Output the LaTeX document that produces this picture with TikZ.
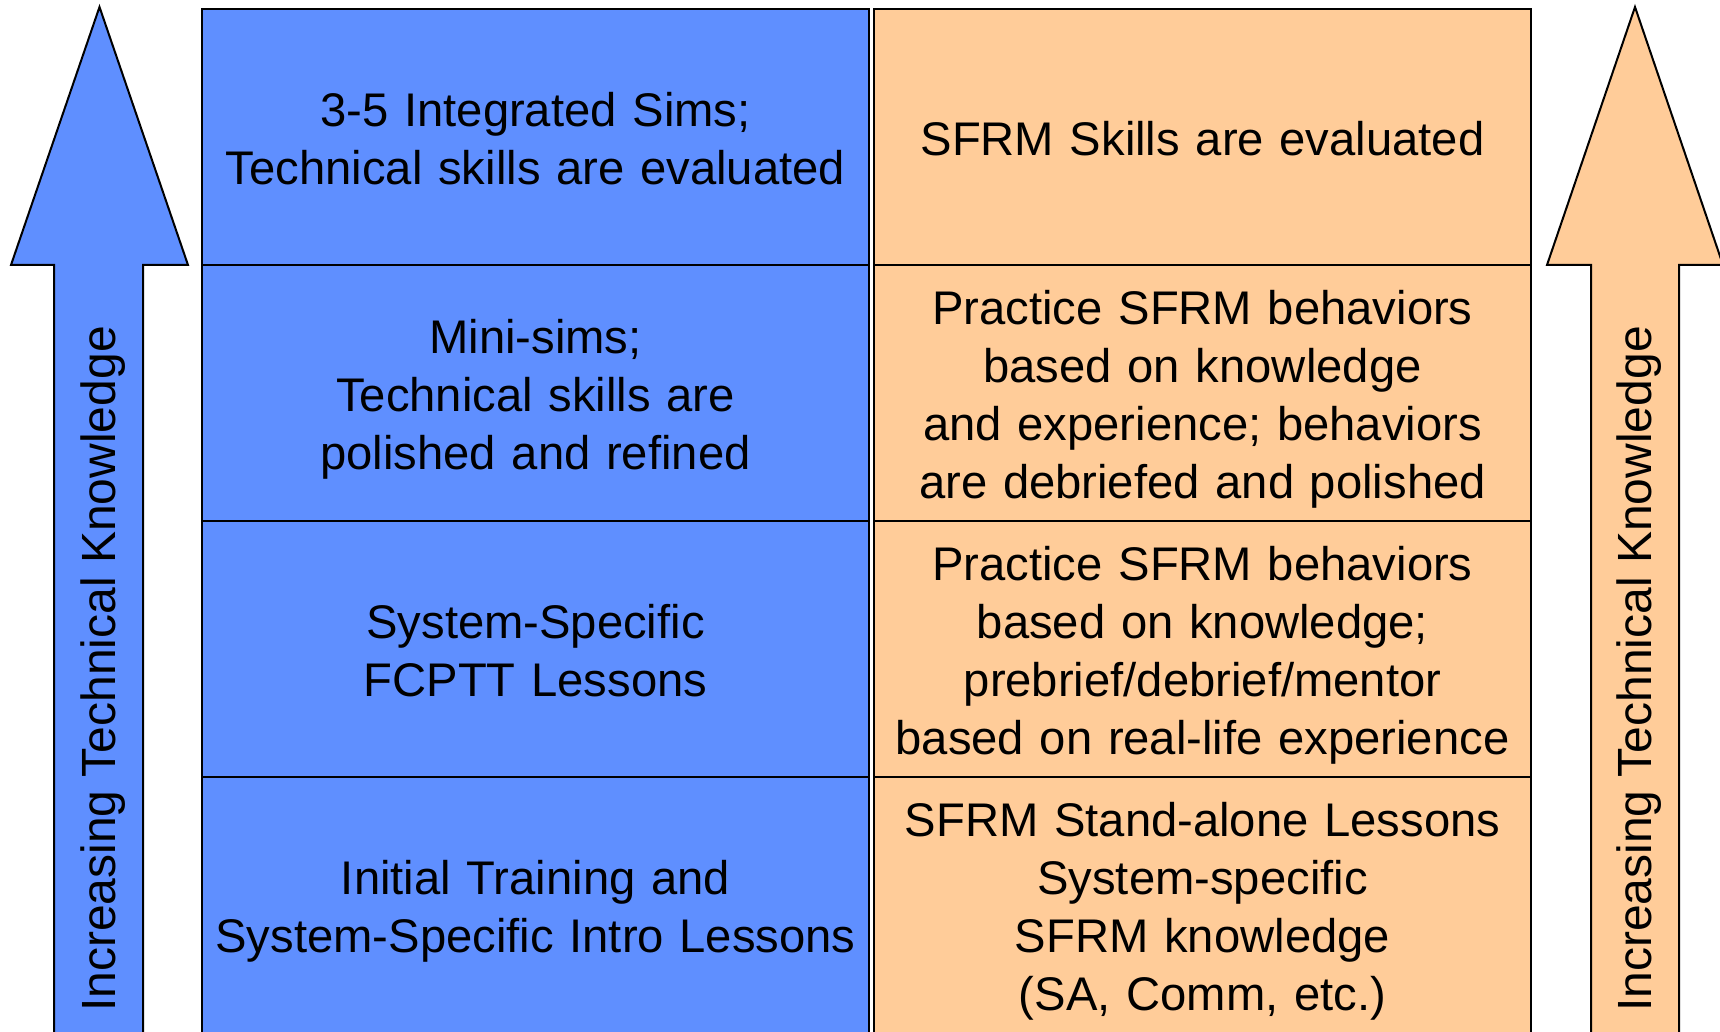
\documentclass[tikz,border=0pt]{standalone}
\usepackage{fontspec}
\setmainfont{Liberation Sans}
\usepackage{tikz}
\usetikzlibrary{positioning}
\definecolor{cellblue}{RGB}{95,143,255}
\definecolor{cellorange}{RGB}{255,204,153}
\newcommand{\cellstrut}{\rule[-5pt]{0pt}{29pt}}
\tikzset{
    cell/.style={draw=black, line width=1pt, outer sep=0pt, inner sep=0pt,
        minimum height=128pt, align=center, text width=#1,
        font=\fontsize{23.6}{29}\selectfont,
        execute at begin node=\cellstrut, execute at end node=\cellstrut},
    bluecell/.style={cell=332pt, fill=cellblue, minimum width=333.5pt},
    orangecell/.style={cell=327pt, fill=cellorange, minimum width=328.5pt},
    uparrow/.style={draw=black, line width=1pt, line join=miter},
    arrowlabel/.style={rotate=90, inner sep=0pt, font=\fontsize{24}{29}\selectfont},
}
\begin{document}
\begin{tikzpicture}[x=0.5pt, y=0.5pt]
\useasboundingbox (0,0) rectangle (1720,1032);
% arrows on both sides
\draw[uparrow, fill=cellblue] (54,-10) -- (54,767) -- (11,767) -- (99.5,1025)
    -- (188,767) -- (143,767) -- (143,-10) -- cycle;
\draw[uparrow, fill=cellorange] (1591,-10) -- (1591,767) -- (1547,767) -- (1635,1025)
    -- (1723,767) -- (1679,767) -- (1679,-10) -- cycle;
\node[arrowlabel] (lefttext) at (103,363) {Increasing Technical Knowledge};
\node[arrowlabel] (righttext) at (1639,363) {Increasing Technical Knowledge};
% blue column
\node[bluecell] (b1) at (535.5,895) {3-5 Integrated Sims;\\Technical skills are evaluated};
\node[bluecell, below=0pt of b1] (b2) {Mini-sims;\\Technical skills are\\polished and refined};
\node[bluecell, below=0pt of b2] (b3) {System-Specific\\FCPTT Lessons};
\node[bluecell, below=0pt of b3] (b4) {Initial Training and\\System-Specific Intro Lessons};
% orange column
\node[orangecell, right=2.5pt of b1] (o1) {SFRM Skills are evaluated};
\node[orangecell, below=0pt of o1] (o2) {Practice SFRM behaviors\\based on knowledge\\and experience; behaviors\\are debriefed and polished};
\node[orangecell, below=0pt of o2] (o3) {Practice SFRM behaviors\\based on knowledge;\\prebrief/debrief/mentor\\based on real-life experience};
\node[orangecell, below=0pt of o3] (o4) {SFRM Stand-alone Lessons\\System-specific\\SFRM knowledge\\(SA, Comm, etc.)};
\end{tikzpicture}
\end{document}
